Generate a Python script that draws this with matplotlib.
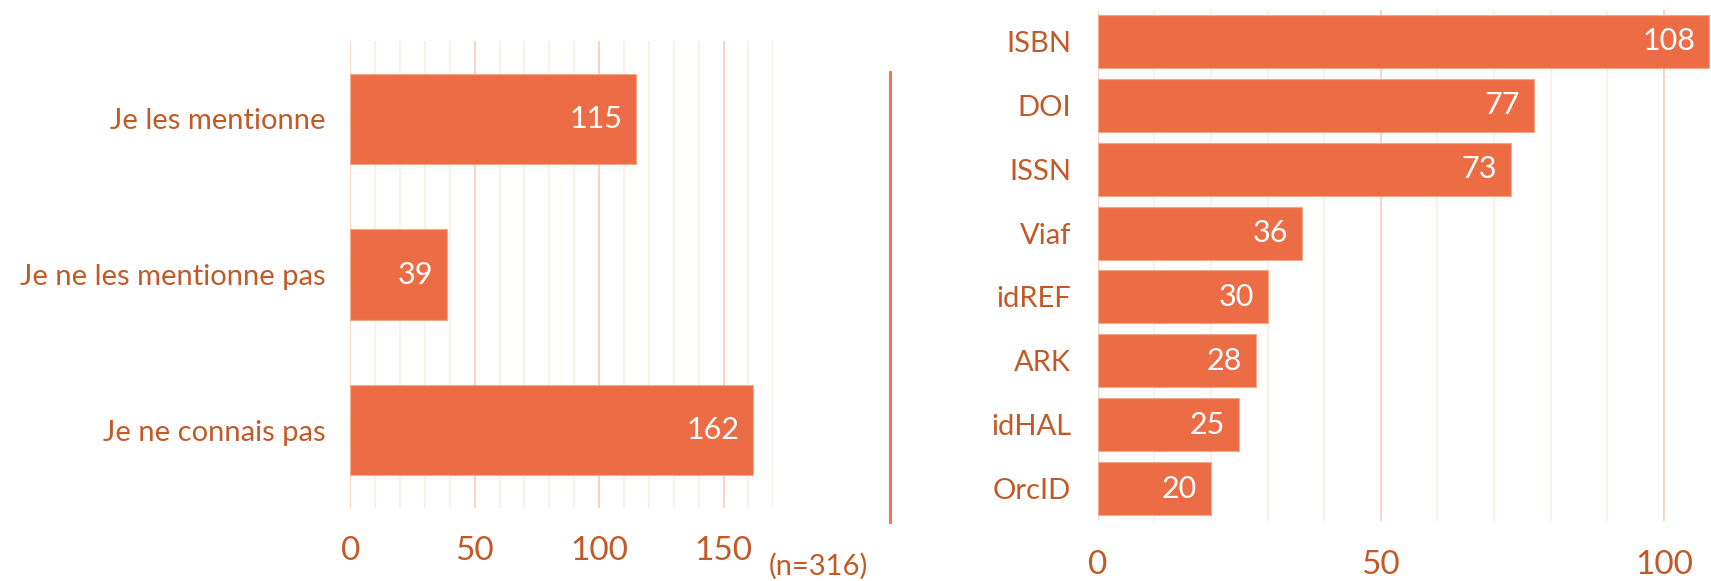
import numpy as np
import matplotlib.pyplot as plt

# left chart: mention of identifiers
usage_labels = ['Je les mentionne', 'Je ne les mentionne pas', 'Je ne connais pas']
usage_values = [115, 39, 162]

# right chart: identifiers used
id_labels = ['ISBN', 'DOI', 'ISSN', 'Viaf', 'idREF', 'ARK', 'idHAL', 'OrcID']
id_values = [108, 77, 73, 36, 30, 28, 25, 20]

left_ticks = [0, 50, 100, 150]
right_ticks = [0, 50, 100]
note = '(n=316)'

BAR = '#EC6D45'
TXT = '#C25A28'
GRID_MAJ = '#F7D3C3'
GRID_MIN = '#FCEEE8'

plt.rcParams['font.family'] = ['Lato', 'DejaVu Sans']

W, H = 1711, 581


def px_axes(fig, x0, y0, x1, y1):
    # pixel box (top-left origin) -> figure fraction
    return fig.add_axes([x0 / W, 1 - y1 / H, (x1 - x0) / W, (y1 - y0) / H])


def style(ax, ticks, xmax, pad_lab, pad_tick):
    ax.set_xlim(0, xmax)
    ax.set_xticks(ticks)
    ax.set_xticks(np.arange(0, xmax + 1, 10), minor=True)
    ax.grid(True, which='minor', axis='x', color=GRID_MIN, lw=1.2, zorder=0)
    ax.grid(True, which='major', axis='x', color=GRID_MAJ, lw=1.4, zorder=0)
    ax.set_axisbelow(True)
    for s in ax.spines.values():
        s.set_visible(False)
    ax.tick_params(axis='both', which='both', length=0)
    ax.tick_params(axis='x', labelsize=24, labelcolor=TXT, pad=pad_tick)
    ax.tick_params(axis='y', labelsize=21, labelcolor=TXT, pad=pad_lab)


def bars(ax, labels, values, height):
    y = np.arange(len(values))
    ax.barh(y, values, height=height, color=BAR, edgecolor='#F3A887',
            linewidth=0.8, zorder=2)
    ax.set_yticks(y)
    ax.set_yticklabels(labels)
    ax.set_ylim(len(values) - 0.5, -0.5)
    for yi, v in zip(y, values):
        ax.annotate(str(v), (v, yi), xytext=(-10, 0), textcoords='offset points',
                    ha='right', va='center', color='white', fontsize=22, zorder=3)


fig = plt.figure(figsize=(W / 100, H / 100), dpi=100)

ax1 = px_axes(fig, 350.3, 41, 773.3, 508)
bars(ax1, usage_labels, usage_values, 0.58)
style(ax1, left_ticks, 170, 18, 20)

ax2 = px_axes(fig, 1097.7, 9.5, 1711, 520.5)
bars(ax2, id_labels, id_values, 0.83)
style(ax2, right_ticks, 108.3, 19, 21)

# vertical separator between the two charts
fig.add_artist(plt.Line2D([890 / W, 890 / W], [1 - 72 / H, 1 - 522 / H],
                          color=BAR, lw=2))

fig.text(818 / W, 1 - 566 / H, note, ha='center', va='center',
         fontsize=21, color=TXT)

fig.savefig('out.png', dpi=100)
